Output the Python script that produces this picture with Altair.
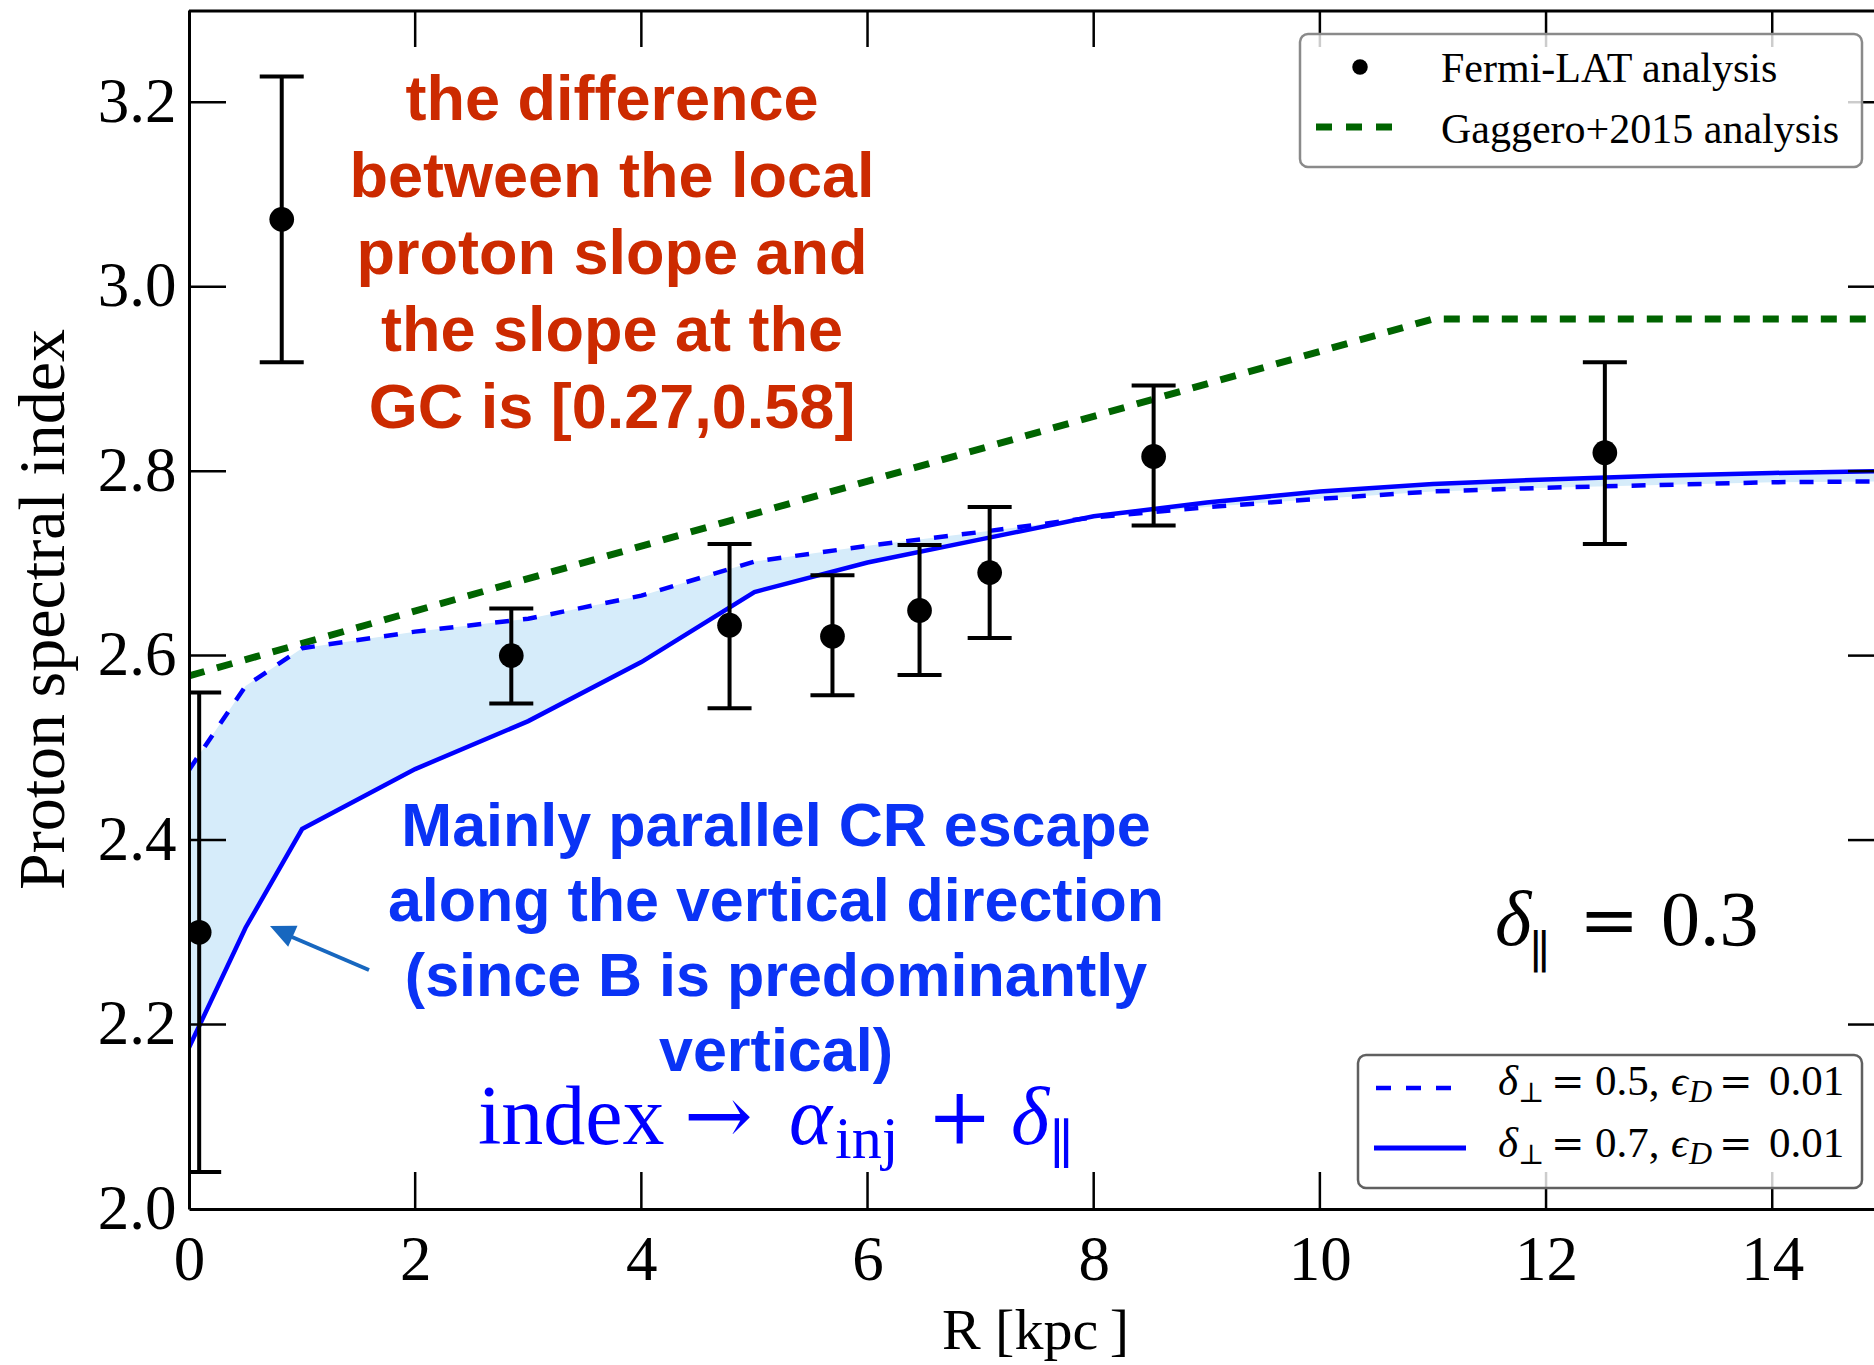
import altair as alt
import pandas as pd

# ---------------- data ----------------
R_fermi = [0.09, 0.82, 2.85, 4.78, 5.69, 6.46, 7.08, 8.53, 12.52]
idx_fermi = [2.300, 3.073, 2.600, 2.633, 2.621, 2.649, 2.690, 2.816, 2.820]
err_low = [2.040, 2.918, 2.548, 2.543, 2.557, 2.579, 2.619, 2.741, 2.721]
err_high = [2.560, 3.228, 2.651, 2.721, 2.687, 2.720, 2.761, 2.893, 2.918]

R_model = [0, 0.5, 1, 2, 3, 4, 5, 6, 7, 8, 9, 10, 11, 12, 13, 14, 15]
idx_perp05 = [2.476, 2.567, 2.608, 2.626, 2.640, 2.665, 2.702, 2.719, 2.734, 2.750,
              2.761, 2.770, 2.778, 2.782, 2.785, 2.788, 2.789]
idx_perp07 = [2.175, 2.305, 2.412, 2.477, 2.529, 2.593, 2.669, 2.701, 2.726, 2.751,
              2.766, 2.778, 2.786, 2.791, 2.795, 2.798, 2.800]

R_gaggero = [0, 11, 15]
idx_gaggero = [2.578, 2.965, 2.965]

x_tick_vals = [2, 4, 6, 8, 10, 12, 14]
x_label_vals = [0, 2, 4, 6, 8, 10, 12, 14]
y_tick_vals = [2.2, 2.4, 2.6, 2.8, 3.0, 3.2]
y_label_vals = [2.0, 2.2, 2.4, 2.6, 2.8, 3.0, 3.2]

# ---------------- styling ----------------
W, H = 1685, 1199
SERIF = "Liberation Serif, DejaVu Serif, serif"
MATHSYM = "DejaVu Serif, serif"
SANS = "Liberation Sans, Arial, sans-serif"
FILL = "#d6ecfa"
BLUE = "#0000ff"
GREEN = "#006400"
RED_TXT = "#cc2a00"
BLUE_TXT = "#0a33f5"
ARROW = "#1767bf"
TICK = 37

xs = alt.Scale(domain=[0, 14.9], nice=False, zero=False)
ys = alt.Scale(domain=[2.0, 3.3], nice=False, zero=False)

xaxis = alt.Axis(values=x_label_vals, format="d", title="R [kpc\u2009]", grid=False,
                 ticks=False, tickSize=0, domainColor="black", domainWidth=3,
                 labelFont=SERIF, labelFontSize=63, labelPadding=20, labelColor="black",
                 labelFlush=False, labelOverlap=False, labelBaseline="top",
                 titleFont=SERIF, titleFontSize=58, titleFontWeight="normal",
                 titleColor="black", titleX=846, titleY=139, titleBaseline="alphabetic",
                 titleAlign="center", zindex=1)
yaxis = alt.Axis(values=y_label_vals, format=".1f", title="Proton spectral index",
                 grid=False, ticks=False, tickSize=0, domainColor="black", domainWidth=3,
                 labelFont=SERIF, labelFontSize=63, labelPadding=13, labelColor="black",
                 labelFlush=False, labelOverlap=False,
                 titleFont=SERIF, titleFontSize=66, titleFontWeight="normal",
                 titleColor="black", titleAngle=270, titleX=-126, titleY=599,
                 titleBaseline="alphabetic", titleAlign="center", zindex=1)

df_model = pd.DataFrame({"R": R_model, "d05": idx_perp05, "d07": idx_perp07})
df_fermi = pd.DataFrame({"R": R_fermi, "v": idx_fermi, "lo": err_low, "hi": err_high})
df_gag = pd.DataFrame({"R": R_gaggero, "v": idx_gaggero})
df_xt = pd.DataFrame({"t": x_tick_vals})
df_yt = pd.DataFrame({"t": y_tick_vals})

X = lambda f: alt.X(f, type="quantitative", scale=xs, axis=xaxis)
Y = lambda f: alt.Y(f, type="quantitative", scale=ys, axis=yaxis)

band = alt.Chart(df_model).mark_area(color=FILL, opacity=1, clip=True).encode(
    x=X("R"), y=Y("d05"), y2="d07")
green = alt.Chart(df_gag).mark_line(color=GREEN, strokeWidth=7, strokeDash=[16, 13],
                                     clip=True).encode(x=X("R"), y=Y("v"))
dashed = alt.Chart(df_model).mark_line(color=BLUE, strokeWidth=4.5, strokeDash=[14, 14],
                                        clip=True).encode(x=X("R"), y=Y("d05"))
solid = alt.Chart(df_model).mark_line(color=BLUE, strokeWidth=4.5, clip=True).encode(
    x=X("R"), y=Y("d07"))

ebar = alt.Chart(df_fermi).mark_rule(color="black", strokeWidth=4, clip=True).encode(
    x=X("R"), y=Y("lo"), y2="hi")
cap_lo = alt.Chart(df_fermi).mark_tick(orient="horizontal", size=44, thickness=4,
                                       color="black", opacity=1, clip=True).encode(
    x=X("R"), y=Y("lo"))
cap_hi = alt.Chart(df_fermi).mark_tick(orient="horizontal", size=44, thickness=4,
                                       color="black", opacity=1, clip=True).encode(
    x=X("R"), y=Y("hi"))
pts = alt.Chart(df_fermi).mark_circle(size=610, color="black", opacity=1, clip=True).encode(
    x=X("R"), y=Y("v"))

# inward ticks on all sides
tick_b = alt.Chart(df_xt).mark_rule(color="black", strokeWidth=2.5).encode(
    x=X("t"), y=alt.value(H), y2=alt.value(H - TICK))
tick_t = alt.Chart(df_xt).mark_rule(color="black", strokeWidth=2.5).encode(
    x=X("t"), y=alt.value(0), y2=alt.value(TICK))
tick_l = alt.Chart(df_yt).mark_rule(color="black", strokeWidth=2.5).encode(
    y=Y("t"), x=alt.value(0), x2=alt.value(TICK))
tick_r = alt.Chart(df_yt).mark_rule(color="black", strokeWidth=2.5).encode(
    y=Y("t"), x=alt.value(W - 26), x2=alt.value(W))
one = pd.DataFrame({"k": [0]})
top_spine = alt.Chart(one).mark_rule(color="black", strokeWidth=3).encode(
    x=alt.value(0), x2=alt.value(W), y=alt.value(1))


def txt(s, x, y, size, color="black", font=SERIF, style="normal", weight="normal",
        align="left"):
    return alt.Chart(pd.DataFrame({"s": [s]})).mark_text(
        align=align, baseline="alphabetic", font=font, fontSize=size, fontStyle=style,
        fontWeight=weight, color=color).encode(
        x=alt.value(x), y=alt.value(y), text="s:N")


layers = [band, green, dashed, solid, ebar, cap_lo, cap_hi, pts,
          tick_b, tick_t, tick_l, tick_r, top_spine]

# red annotation
red_lines = ["the difference", "between the local", "proton slope and",
             "the slope at the", "GC is [0.27,0.58]"]
for i, s in enumerate(red_lines):
    layers.append(txt(s, 423, 110 + 77 * i, 63, RED_TXT, SANS, weight="bold",
                      align="center"))

# blue annotation
blue_lines = ["Mainly parallel CR escape", "along the vertical direction",
              "(since B is predominantly", "vertical)"]
for i, s in enumerate(blue_lines):
    layers.append(txt(s, 587, 836 + 75 * i, 61, BLUE_TXT, SANS, weight="bold",
                      align="center"))

# index -> alpha_inj + delta_par
layers += [
    txt("index", 289, 1134, 84, BLUE),
    txt("\u2192", 495, 1134, 82, BLUE, MATHSYM),
    txt("\u03b1", 600, 1134, 82, BLUE, style="italic"),
    txt("inj", 646, 1148, 60, BLUE),
    txt("+", 738, 1134, 78, BLUE, MATHSYM),
    txt("\u03b4", 822, 1134, 82, BLUE, style="italic"),
    txt("\u2225", 860, 1153, 54, BLUE),
]

# delta_par = 0.3
layers += [
    txt("\u03b4", 1306, 935, 78, style="italic"),
    txt("\u2225", 1340, 958, 46),
    txt("=", 1390, 935, 72, font=MATHSYM),
    txt("0.3", 1472, 935, 78),
]

# arrow
layers.append(alt.Chart(one).mark_rule(color=ARROW, strokeWidth=4).encode(
    x=alt.value(180), y=alt.value(960), x2=alt.value(103), y2=alt.value(927)))
layers.append(alt.Chart(one).mark_point(
    shape="M0,0L0.46,1L-0.46,1Z", size=2500, angle=294, filled=True, color=ARROW,
    opacity=1, strokeWidth=0).encode(x=alt.value(81), y=alt.value(916)))

# legend 1 (top right)
layers += [
    alt.Chart(one).mark_rect(cornerRadius=8, fill="white", fillOpacity=0.8,
                             stroke="#8a8a8a", strokeWidth=2.5).encode(
        x=alt.value(1111), x2=alt.value(1673), y=alt.value(24), y2=alt.value(157)),
    alt.Chart(one).mark_circle(size=240, color="black", opacity=1).encode(
        x=alt.value(1171), y=alt.value(57)),
    txt("Fermi-LAT analysis", 1252, 72, 42),
    alt.Chart(one).mark_rule(color=GREEN, strokeWidth=7, strokeDash=[16, 14]).encode(
        x=alt.value(1127), x2=alt.value(1205), y=alt.value(117)),
    txt("Gaggero+2015 analysis", 1252, 133, 42),
]

# legend 2 (bottom right)
layers += [
    alt.Chart(one).mark_rect(cornerRadius=8, fill="white", fillOpacity=0.8,
                             stroke="#606060", strokeWidth=2.5).encode(
        x=alt.value(1169), x2=alt.value(1673), y=alt.value(1045), y2=alt.value(1178)),
    alt.Chart(one).mark_rule(color=BLUE, strokeWidth=4.5, strokeDash=[15, 15]).encode(
        x=alt.value(1187), x2=alt.value(1263), y=alt.value(1078)),
    alt.Chart(one).mark_rule(color=BLUE, strokeWidth=5).encode(
        x=alt.value(1185), x2=alt.value(1277), y=alt.value(1138)),
]
for base, val in [(1085, "0.5,"), (1147, "0.7,")]:
    layers += [
        txt("\u03b4", 1309, base, 43, style="italic"),
        txt("\u22a5", 1329, base + 7, 28, font=MATHSYM),
        txt("=", 1362, base, 40, font=MATHSYM),
        txt(val, 1406, base, 43),
        txt("\u03f5", 1482, base, 42, style="italic"),
        txt("D", 1500, base + 7, 32, style="italic"),
        txt("=", 1530, base, 40, font=MATHSYM),
        txt("0.01", 1580, base, 43),
    ]

chart = alt.layer(*layers).properties(
    width=W, height=H,
    padding={"left": 189, "top": 10, "right": 0, "bottom": 156},
    autosize=alt.AutoSizeParams(type="none"),
    background="white",
).configure_view(stroke=None)

chart.save("out.html", embed_options={"renderer": "svg", "actions": False})
